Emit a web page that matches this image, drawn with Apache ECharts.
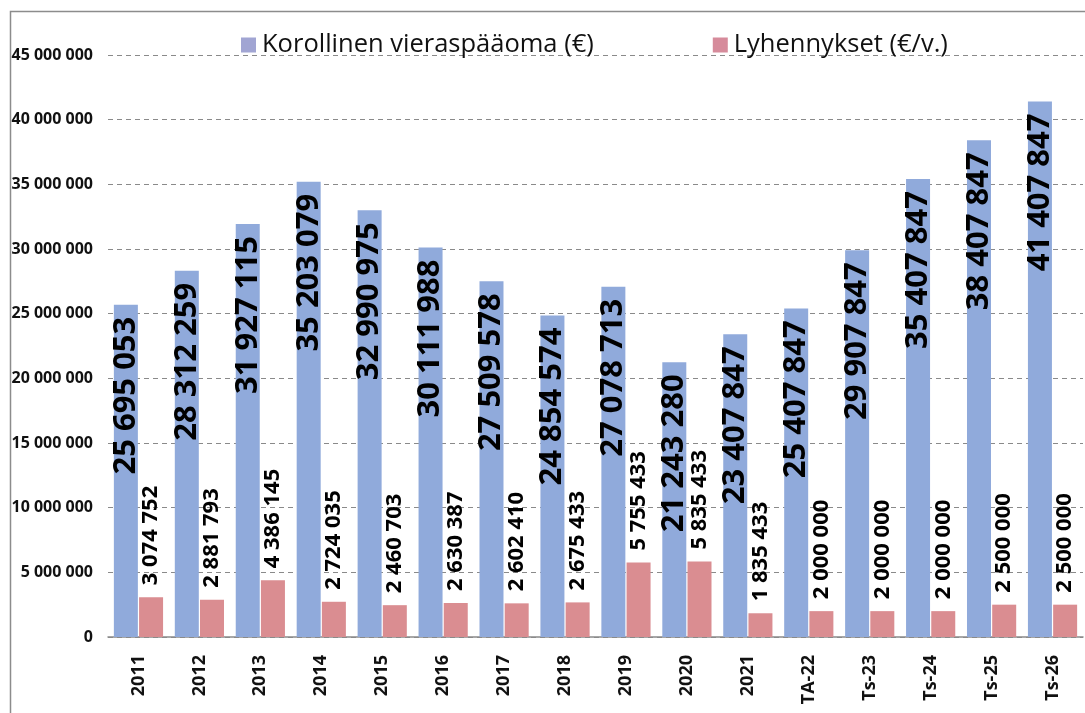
<!DOCTYPE html>
<html>
<head>
<meta charset="utf-8">
<script src="https://cdn.jsdelivr.net/npm/echarts@6/dist/echarts.min.js"></script>
<style>
  html, body { margin: 0; padding: 0; background: #fff; }
  #chart { width: 1085px; height: 713px; }
</style>
</head>
<body>
<div id="chart"></div>
<script>
// luokat ja arvot kuvasta
const categories = ['2011', '2012', '2013', '2014', '2015', '2016', '2017', '2018',
  '2019', '2020', '2021', 'TA-22', 'Ts-23', 'Ts-24', 'Ts-25', 'Ts-26']
const debt = [25695053, 28312259, 31927115, 35203079, 32990975, 30111988, 27509578, 24854574,
  27078713, 21243280, 23407847, 25407847, 29907847, 35407847, 38407847, 41407847]
const repayments = [3074752, 2881793, 4386145, 2724035, 2460703, 2630387, 2602410, 2675433,
  5755433, 5835433, 1835433, 2000000, 2000000, 2000000, 2500000, 2500000]
const yTicks = [0, 5000000, 10000000, 15000000, 20000000, 25000000, 30000000, 35000000, 40000000, 45000000]

const debtName = 'Korollinen vieraspääoma (€)'
const repayName = 'Lyhennykset (€/v.)'

function fmt(v) {
  return String(v).replace(/\B(?=(\d{3})+(?!\d))/g, ' ')
}

const font = '"Open Sans", "Liberation Sans", sans-serif'
const chart = echarts.init(document.getElementById('chart'))

const option = {
  animation: false,
  textStyle: { fontFamily: font },
  graphic: [
    {
      type: 'rect',
      shape: { x: 10.5, y: 11.5, width: 1100, height: 720 },
      style: { fill: 'none', stroke: '#8c8c8c', lineWidth: 1.5 },
      silent: true
    }
  ],
  legend: {
    left: 236,
    top: 27,
    itemWidth: 15,
    itemHeight: 15,
    itemGap: 119,
    icon: 'rect',
    textStyle: { fontSize: 25.5, color: '#111', fontFamily: font, padding: [0, 0, 0, 1] },
    data: [
      { name: debtName, itemStyle: { color: '#a1a5d3' } },
      { name: repayName, itemStyle: { color: '#d68b9b' } }
    ]
  },
  grid: {
    left: 108,
    right: 2,
    top: 55,
    bottom: 76,
    containLabel: false
  },
  xAxis: {
    type: 'category',
    data: categories,
    axisTick: { show: false },
    axisLine: { lineStyle: { color: '#8a8a8a', width: 1.5 } },
    axisLabel: {
      interval: 0,
      rotate: 90,
      margin: 18,
      fontSize: 18,
      fontWeight: 'bold',
      color: '#111',
      fontFamily: font
    }
  },
  yAxis: {
    type: 'value',
    min: yTicks[0],
    max: yTicks[yTicks.length - 1],
    interval: 5000000,
    axisLine: { show: false },
    axisTick: { show: false },
    axisLabel: {
      margin: 15,
      fontSize: 16,
      fontWeight: 'bold',
      color: '#111',
      fontFamily: font,
      formatter: fmt
    },
    splitLine: {
      lineStyle: { color: '#8a8a8a', type: [5, 4], width: 1 }
    }
  },
  series: [
    {
      name: debtName,
      type: 'bar',
      data: debt,
      barWidth: 24,
      barGap: '5%',
      itemStyle: { color: '#90aadb' },
      label: {
        show: true,
        position: 'insideTop',
        distance: 12,
        rotate: 90,
        align: 'right',
        verticalAlign: 'middle',
        fontSize: 31,
        fontWeight: 'bold',
        color: '#000',
        fontFamily: font,
        formatter: (p) => fmt(p.value)
      }
    },
    {
      name: repayName,
      type: 'bar',
      data: repayments,
      barWidth: 24,
      barGap: '5%',
      itemStyle: { color: '#da8d91' },
      label: {
        show: true,
        position: 'top',
        distance: 12,
        rotate: 90,
        align: 'left',
        verticalAlign: 'middle',
        fontSize: 22,
        fontWeight: 'bold',
        color: '#000',
        fontFamily: font,
        formatter: (p) => fmt(p.value)
      }
    }
  ]
}

chart.setOption(option)
</script>
</body>
</html>
